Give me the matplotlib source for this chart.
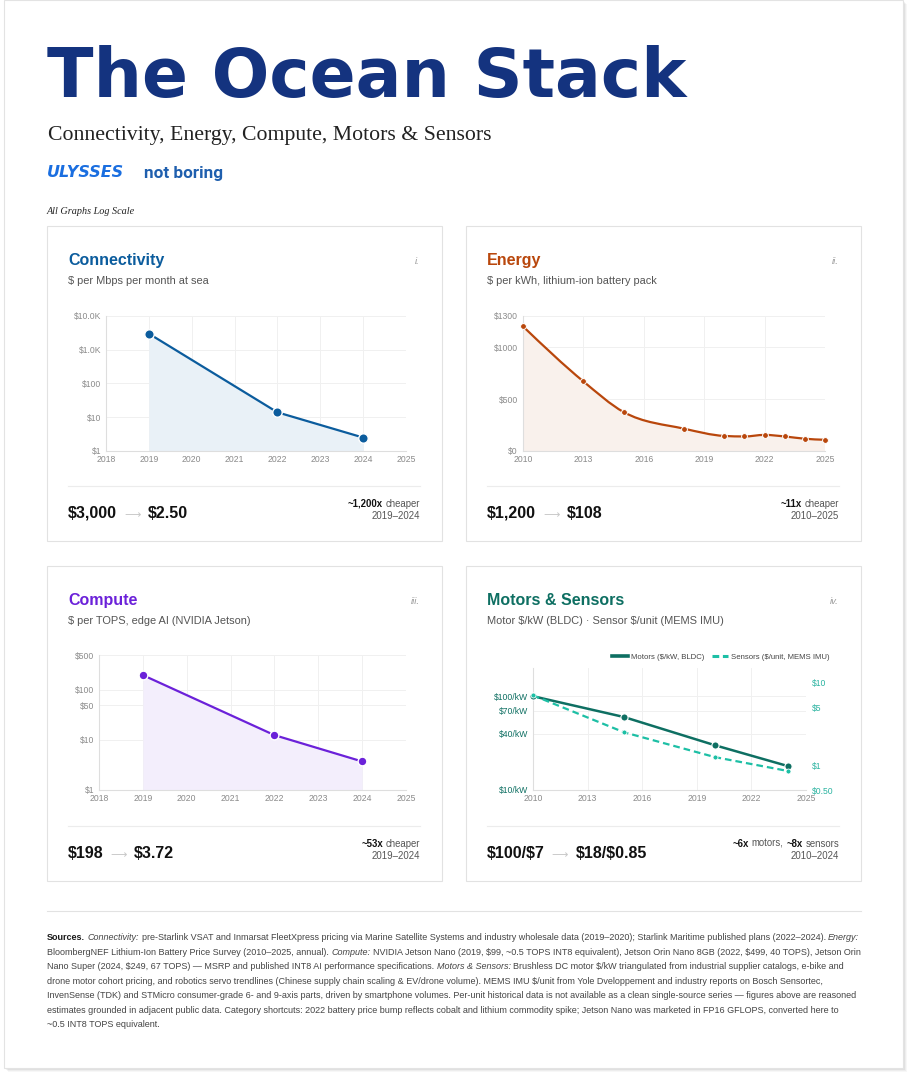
import numpy as np
import matplotlib
matplotlib.use("Agg")
import matplotlib.pyplot as plt
from matplotlib.path import Path
from matplotlib.patches import PathPatch, Rectangle
from matplotlib.lines import Line2D
from matplotlib.ticker import NullLocator

plt.rcParams['text.parse_math'] = False
plt.rcParams['font.family'] = ['Liberation Sans', 'DejaVu Sans']

# ---------------- data ----------------
conn_years = [2019, 2022, 2024]
conn_values = [3000, 14, 2.5]
conn_yticks = [1, 10, 100, 1000, 10000]
conn_ylabels = ['$1', '$10', '$100', '$1.0K', '$10.0K']
conn_xticks = [2018, 2019, 2020, 2021, 2022, 2023, 2024, 2025]

energy_years = [2010, 2013, 2015, 2018, 2020, 2021, 2022, 2023, 2024, 2025]
energy_values = [1200, 670, 375, 215, 145, 140, 155, 140, 118, 108]
energy_yticks = [0, 500, 1000, 1300]
energy_ylabels = ['$0', '$500', '$1000', '$1300']
energy_xticks = [2010, 2013, 2016, 2019, 2022, 2025]

compute_years = [2019, 2022, 2024]
compute_values = [198, 12.5, 3.72]
compute_yticks = [1, 10, 50, 100, 500]
compute_ylabels = ['$1', '$10', '$50', '$100', '$500']
compute_xticks = [2018, 2019, 2020, 2021, 2022, 2023, 2024, 2025]

ms_years = [2010, 2015, 2020, 2024]
motor_values = [100, 60, 30, 18]
sensor_values = [7, 2.5, 1.25, 0.85]
motor_yticks = [10, 40, 70, 100]
motor_ylabels = ['$10/kW', '$40/kW', '$70/kW', '$100/kW']
sensor_yticks = [0.5, 1, 5, 10]
sensor_ylabels = ['$0.50', '$1', '$5', '$10']
ms_xticks = [2010, 2013, 2016, 2019, 2022, 2025]
ms_legend = ['Motors ($/kW, BLDC)', 'Sensors ($/unit, MEMS IMU)']

# ---------------- figure ----------------
W, H = 908, 1076
fig = plt.figure(figsize=(W / 100, H / 100), dpi=100)
fig.patch.set_facecolor('white')
renderer = fig.canvas.get_renderer()


def fx(x):
    return x / W


def fy(y):
    return 1 - y / H


def text_width(s, **kw):
    t = fig.text(0, 0, '|' + s + '|', **kw)
    w1 = t.get_window_extent(renderer).width
    t.remove()
    t = fig.text(0, 0, '||', **kw)
    w2 = t.get_window_extent(renderer).width
    t.remove()
    return w1 - w2


def fit_size(s, width, **kw):
    return 10.0 * width / text_width(s, fontsize=10, **kw)


def runs(x, y, parts, ha='left'):
    widths = []
    for p in parts:
        if isinstance(p, (int, float)):
            widths.append(p)
        else:
            widths.append(text_width(p[0], **p[1]))
    if ha == 'right':
        x = x - sum(widths)
    for p, w in zip(parts, widths):
        if not isinstance(p, (int, float)):
            s, kw = p
            lead = len(s) - len(s.lstrip(' '))
            off = text_width(' ' * lead, **kw) if lead else 0
            if s.strip():
                fig.text(fx(x + off), fy(y), s.strip(), ha='left', va='baseline', **kw)
        x += w


def rect(x0, y0, x1, y1, **kw):
    fig.add_artist(Rectangle((fx(x0), fy(y1)), (x1 - x0) / W, (y1 - y0) / H,
                             transform=fig.transFigure, **kw))


def hline(x0, x1, y, color, lw=0.8):
    fig.add_artist(Line2D([fx(x0), fx(x1)], [fy(y), fy(y)], transform=fig.transFigure,
                          color=color, lw=lw, zorder=-1))


# page with shadow
for d, a in [(4, 0.03), (3, 0.04), (2, 0.05), (1, 0.06)]:
    rect(4 + d, 0 + d, 903 + d, 1068 + d, facecolor='black', alpha=a, edgecolor='none', zorder=-4)
rect(4, 0, 903, 1068, facecolor='white', edgecolor='#e3e3e3', lw=0.8, zorder=-3)

# ---------------- header ----------------
title_kw = dict(family=['DejaVu Sans'], weight='bold', color='#14337f')
ts = fit_size('The Ocean Stack', 643, **title_kw)
fig.text(fx(47), fy(97), 'The Ocean Stack', fontsize=ts, ha='left', va='baseline', **title_kw)

sub_kw = dict(family=['Liberation Serif', 'DejaVu Serif'], color='#222222')
ss = fit_size('Connectivity, Energy, Compute, Motors & Sensors', 442, **sub_kw)
fig.text(fx(48), fy(140), 'Connectivity, Energy, Compute, Motors & Sensors', fontsize=ss,
         ha='left', va='baseline', **sub_kw)

uly_kw = dict(family=['DejaVu Sans'], weight='bold', style='oblique', color='#1a6ee0')
us = fit_size('ULYSSES', 77, **uly_kw)
fig.text(fx(47), fy(177), 'ULYSSES', fontsize=us, ha='left', va='baseline', **uly_kw)

nb_kw = dict(family=['Roboto', 'DejaVu Sans'], weight='bold', color='#1f5fae')
ns = fit_size('not boring', 79, **nb_kw)
fig.text(fx(144), fy(178), 'not boring', fontsize=ns, ha='left', va='baseline', **nb_kw)

lg_kw = dict(family=['Liberation Serif', 'DejaVu Serif'], style='italic', color='#222222')
ls_ = fit_size('All Graphs Log Scale', 88, **lg_kw)
fig.text(fx(47), fy(214), 'All Graphs Log Scale', fontsize=ls_, ha='left', va='baseline', **lg_kw)

# ---------------- cards ----------------
card_title_size = fit_size('Connectivity', 96, weight='bold')
card_sub_size = fit_size('$ per Mbps per month at sea', 140)
big_size = fit_size('$3,000', 49, weight='bold')
small_size = fit_size('~1,200x cheaper', 74) * 0.97

cards = [
    dict(box=(47, 226, 442, 541), title='Connectivity', color='#0b5c9d', num='i.',
         sub='$ per Mbps per month at sea', start='$3,000', end='$2.50',
         r1=[('~1,200x', True), (' cheaper', False)], r2='2019\u20132024'),
    dict(box=(466, 226, 861, 541), title='Energy', color='#b9470c', num='ii.',
         sub='$ per kWh, lithium-ion battery pack', start='$1,200', end='$108',
         r1=[('~11x', True), (' cheaper', False)], r2='2010\u20132025'),
    dict(box=(47, 566, 442, 881), title='Compute', color='#6b21d9', num='iii.',
         sub='$ per TOPS, edge AI (NVIDIA Jetson)', start='$198', end='$3.72',
         r1=[('~53x', True), (' cheaper', False)], r2='2019\u20132024'),
    dict(box=(466, 566, 861, 881), title='Motors & Sensors', color='#0e6f62', num='iv.',
         sub='Motor $/kW (BLDC) \u00b7 Sensor $/unit (MEMS IMU)', start='$100/$7', end='$18/$0.85',
         r1=[('~6x', True), (' motors, ', False), ('~8x', True), (' sensors', False)], r2='2010\u20132024'),
]

for c in cards:
    x0, y0, x1, y1 = c['box']
    rect(x0, y0, x1, y1, facecolor='white', edgecolor='#e2e2e2', lw=0.8, zorder=-2)
    lx, rx = x0 + 21, x1 - 22
    fig.text(fx(lx), fy(y0 + 39), c['title'], fontsize=card_title_size, weight='bold',
             color=c['color'], ha='left', va='baseline')
    fig.text(fx(rx), fy(y0 + 38), c['num'], fontsize=6.8, style='italic', color='#9a9a9a',
             ha='right', va='baseline')
    fig.text(fx(lx), fy(y0 + 58), c['sub'], fontsize=card_sub_size, color='#555555',
             ha='left', va='baseline')
    hline(lx, rx, y0 + 260, '#ececec')
    big = dict(fontsize=big_size, weight='bold', color='#111111')
    arrow = dict(fontsize=big_size * 0.72, color='#c8c8c8', family=['DejaVu Sans'])
    runs(lx, y0 + 292, [(c['start'], big), 7, ('\u27f6', arrow), 7, (c['end'], big)])
    parts = [(s, dict(fontsize=small_size, weight='bold' if b else 'normal',
                      color='#111111' if b else '#555555')) for s, b in c['r1']]
    runs(rx, y0 + 281, parts, ha='right')
    fig.text(fx(rx), fy(y0 + 293), c['r2'], fontsize=small_size, color='#555555',
             ha='right', va='baseline')


# ---------------- axes helpers ----------------
def make_ax(l, t, r, b, xlim, xticks, log, ylim, yticks, ylabels, ylabcolor='#8a8a8a'):
    ax = fig.add_axes([fx(l), fy(b), (r - l) / W, (b - t) / H])
    ax.set_facecolor('none')
    if log:
        ax.set_yscale('log')
    ax.set_xlim(*xlim)
    ax.set_ylim(*ylim)
    ax.set_xticks(xticks)
    ax.set_xticklabels([str(v) for v in xticks])
    ax.set_yticks(yticks)
    ax.set_yticklabels(ylabels)
    ax.yaxis.set_minor_locator(NullLocator())
    ax.xaxis.set_minor_locator(NullLocator())
    for s in ['top', 'right']:
        ax.spines[s].set_visible(False)
    for s in ['left', 'bottom']:
        ax.spines[s].set_color('#dedede')
        ax.spines[s].set_linewidth(0.8)
    ax.grid(True, color='#f0f0f0', lw=0.7)
    ax.set_axisbelow(True)
    ax.tick_params(axis='both', length=0, labelsize=6.2, labelcolor='#8a8a8a')
    ax.tick_params(axis='x', pad=3.0)
    ax.tick_params(axis='y', pad=3.6, labelcolor=ylabcolor)
    return ax


def monotone(xs, ys):
    n = len(xs)
    h = np.diff(xs)
    s = np.diff(ys) / h
    t = np.zeros(n)
    for i in range(1, n - 1):
        p = (s[i - 1] * h[i] + s[i] * h[i - 1]) / (h[i - 1] + h[i])
        t[i] = (np.sign(s[i - 1]) + np.sign(s[i])) * min(abs(s[i - 1]), abs(s[i]), 0.5 * abs(p))
    if n > 2:
        t[0] = (3 * s[0] - t[1]) / 2
        t[-1] = (3 * s[-1] - t[-2]) / 2
    else:
        t[0] = t[-1] = s[0]
    verts = [(xs[0], ys[0])]
    codes = [Path.MOVETO]
    for i in range(n - 1):
        dx = h[i] / 3
        verts += [(xs[i] + dx, ys[i] + dx * t[i]), (xs[i + 1] - dx, ys[i + 1] - dx * t[i + 1]),
                  (xs[i + 1], ys[i + 1])]
        codes += [Path.CURVE4] * 3
    return np.array(verts, float), codes


def draw_smooth(ax, xs, ys, color, lw, base, fill):
    xs = np.asarray(xs, float)
    ys = np.asarray(ys, float)
    verts, codes = monotone(xs, ys)
    fv = np.vstack([verts, [[xs[-1], base], [xs[0], base], [xs[0], base]]])
    fc = codes + [Path.LINETO, Path.LINETO, Path.CLOSEPOLY]
    ax.add_patch(PathPatch(Path(fv, fc), facecolor=fill, edgecolor='none', zorder=1))
    ax.add_patch(PathPatch(Path(verts, codes), facecolor='none', edgecolor=color, lw=lw,
                           zorder=3, capstyle='round', joinstyle='round'))


def draw_linear(ax, xs, ys, color, lw, base=None, fill=None, ls='-'):
    if fill is not None:
        ax.fill_between(xs, ys, base, color=fill, lw=0, zorder=1)
    ax.plot(xs, ys, color=color, lw=lw, ls=ls, zorder=3, solid_capstyle='round',
            solid_joinstyle='round')


# ---------------- Connectivity ----------------
ax1 = make_ax(106, 316, 406, 451, (2018, 2025), conn_xticks, True, (1, 10000), conn_yticks, conn_ylabels)
draw_linear(ax1, conn_years, conn_values, '#0b5c9d', 1.6, base=1, fill='#e9f1f7')
ax1.plot(conn_years, conn_values, ls='none', marker='o', ms=6.8, mfc='#0b5c9d', mec='white',
         mew=1.0, zorder=5, clip_on=False)

# ---------------- Energy ----------------
ax2 = make_ax(523, 316, 825, 451, (2010, 2025), energy_xticks, False, (0, 1300), energy_yticks, energy_ylabels)
draw_smooth(ax2, energy_years, energy_values, '#b9470c', 1.6, 0, '#f9f1ec')
ax2.plot(energy_years, energy_values, ls='none', marker='o', ms=4.2, mfc='#b9470c', mec='white',
         mew=0.7, zorder=5, clip_on=False)

# ---------------- Compute ----------------
ax3 = make_ax(99, 655, 406, 790, (2018, 2025), compute_xticks, True, (1, 500), compute_yticks, compute_ylabels)
draw_linear(ax3, compute_years, compute_values, '#6b21d9', 1.6, base=1, fill='#f3eefc')
ax3.plot(compute_years, compute_values, ls='none', marker='o', ms=6.3, mfc='#6b21d9', mec='white',
         mew=1.0, zorder=5, clip_on=False)

# ---------------- Motors & Sensors ----------------
motor_c = '#0e6f62'
sensor_c = '#1dbfa5'
ax4 = make_ax(533, 668, 806, 790, (2010, 2025), ms_xticks, True, (10, 200), motor_yticks, motor_ylabels,
              ylabcolor=motor_c)
ax4b = ax4.twinx()
ax4b.set_facecolor('none')
ax4b.set_yscale('log')
ax4b.set_ylim(0.5, 15)
ax4b.set_yticks(sensor_yticks)
ax4b.set_yticklabels(sensor_ylabels)
ax4b.yaxis.set_minor_locator(NullLocator())
for s in ['top', 'right', 'left', 'bottom']:
    ax4b.spines[s].set_visible(False)
ax4b.tick_params(axis='y', length=0, labelsize=6.2, labelcolor='#2ab3a0', pad=4.5)

draw_linear(ax4, ms_years, motor_values, motor_c, 1.8)
ax4.plot(ms_years, motor_values, ls='none', marker='o', ms=5.2, mfc=motor_c, mec='white',
         mew=0.8, zorder=5, clip_on=False)
draw_linear(ax4b, ms_years, sensor_values, sensor_c, 1.6, ls=(0, (3, 1.8)))
ax4b.plot(ms_years, sensor_values, ls='none', marker='o', ms=3.6, mfc=sensor_c, mec='white',
          mew=0.6, zorder=5, clip_on=False)

handles = [Line2D([], [], color=motor_c, lw=2.6),
           Line2D([], [], color=sensor_c, lw=2.2, ls=(0, (2.2, 1.2)))]
fig.legend(handles, ms_legend, loc='center right', bbox_to_anchor=(fx(834), fy(657)),
           bbox_transform=fig.transFigure, ncol=2, frameon=False, fontsize=5.6,
           handlelength=2.0, handletextpad=0.4, columnspacing=1.0, borderpad=0.1,
           labelcolor='#444444')

# ---------------- sources ----------------
hline(47, 861, 911, '#e2e2e2')

reg = dict(color='#444444')
ital = dict(color='#444444', style='italic')
bold = dict(color='#1a1a1a', weight='bold')
source_lines = [
    [('Sources.', bold), (' ', reg), ('Connectivity:', ital),
     (' pre-Starlink VSAT and Inmarsat FleetXpress pricing via Marine Satellite Systems and industry wholesale data (2019\u20132020); Starlink Maritime published plans (2022\u20132024). ', reg),
     ('Energy:', ital)],
    [('BloombergNEF Lithium-Ion Battery Price Survey (2010\u20132025, annual). ', reg), ('Compute:', ital),
     (' NVIDIA Jetson Nano (2019, $99, ~0.5 TOPS INT8 equivalent), Jetson Orin Nano 8GB (2022, $499, 40 TOPS), Jetson Orin', reg)],
    [('Nano Super (2024, $249, 67 TOPS) \u2014 MSRP and published INT8 AI performance specifications. ', reg),
     ('Motors & Sensors:', ital),
     (' Brushless DC motor $/kW triangulated from industrial supplier catalogs, e-bike and', reg)],
    [('drone motor cohort pricing, and robotics servo trendlines (Chinese supply chain scaling & EV/drone volume). MEMS IMU $/unit from Yole Dveloppement and industry reports on Bosch Sensortec,', reg)],
    [('InvenSense (TDK) and STMicro consumer-grade 6- and 9-axis parts, driven by smartphone volumes. Per-unit historical data is not available as a clean single-source series \u2014 figures above are reasoned', reg)],
    [('estimates grounded in adjacent public data. Category shortcuts: 2022 battery price bump reflects cobalt and lithium commodity spike; Jetson Nano was marketed in FP16 GFLOPS, converted here to', reg)],
    [('~0.5 INT8 TOPS equivalent.', reg)],
]
w10 = sum(text_width(s, fontsize=10, **kw) for s, kw in source_lines[0])
src_size = 10.0 * 812 / w10
for i, line in enumerate(source_lines):
    parts = [(s, dict(fontsize=src_size, **kw)) for s, kw in line]
    runs(47, 940.4 + i * 14.43, parts)

fig.savefig('out.png', dpi=100, facecolor='white')
